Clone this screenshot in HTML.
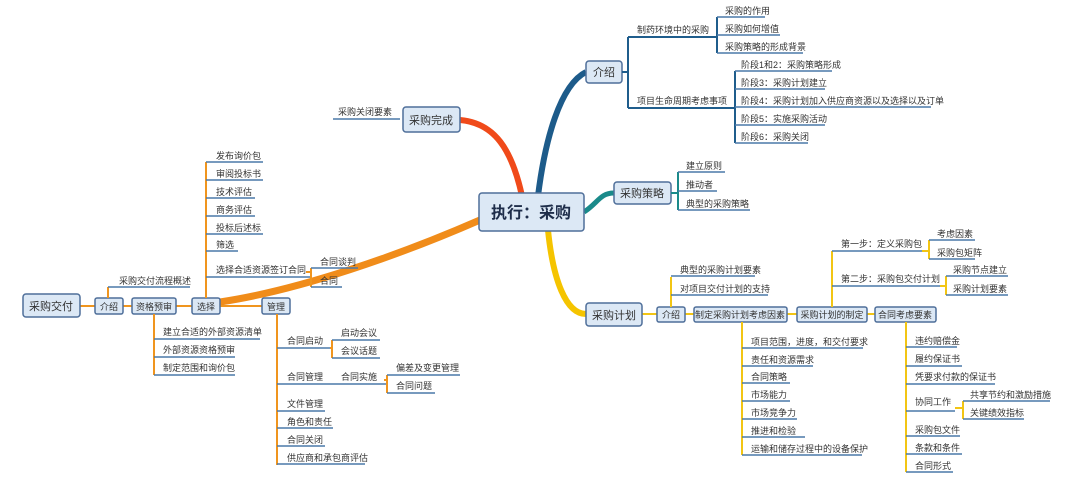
<!DOCTYPE html>
<html><head><meta charset="utf-8"><style>
html,body{margin:0;padding:0;background:#fff;}
svg{display:block;}
text{font-family:"Liberation Sans","Noto Sans CJK SC",sans-serif;font-size:9px;fill:#333;}
.b{fill:#dce8f5;stroke:#4f6f9a;stroke-width:1.5;}
.u{stroke:#4a78a8;stroke-width:1.5;}
.y{stroke:#f2c514;stroke-width:2;fill:none;}
.o{stroke:#f0951e;stroke-width:2;fill:none;}
.bl{stroke:#1f5d8c;stroke-width:2;fill:none;}
.t{stroke:#1b8a8a;stroke-width:2;fill:none;}
.m{font-size:11px;}
.L{font-size:14px;}
</style></head><body>
<svg width="1080" height="483" viewBox="0 0 1080 483" xmlns="http://www.w3.org/2000/svg">
<!-- main curves -->
<path d="M522,196 C512,150 495,123 460,120" stroke="#f04a1a" stroke-width="6" fill="none"/>
<path d="M538,196 C545,140 560,85 586,72" stroke="#1d5b8a" stroke-width="6" fill="none"/>
<path d="M584,212 C598,203 600,193 614,193" stroke="#1a8a8a" stroke-width="5" fill="none"/>
<path d="M548,230 C553,280 566,314 586,314" stroke="#f5c400" stroke-width="6" fill="none"/>
<path d="M480,220 C400,255 300,290 220,302" stroke="#f08c1a" stroke-width="7" fill="none"/>

<!-- center -->
<rect class="b" x="479" y="193" width="105" height="38" rx="3" stroke-width="2"/>
<text x="531" y="218" text-anchor="middle" style="font-size:16px;font-weight:bold;fill:#1e2d4a">执行：采购</text>

<!-- 采购完成 -->
<rect class="b" x="403" y="107" width="57" height="25" rx="3"/>
<text class="m" x="431" y="124" text-anchor="middle">采购完成</text>
<line class="u" x1="333" y1="119" x2="400" y2="119"/>
<text x="338" y="115">采购关闭要素</text>

<!-- 介绍 top -->
<rect class="b" x="586" y="61" width="36" height="22" rx="3"/>
<text class="m" x="604" y="76" text-anchor="middle">介绍</text>
<path class="bl" d="M622,72 H628 M628,37 V108"/>
<line class="bl" x1="628" y1="37" x2="713" y2="37"/>
<line class="bl" x1="628" y1="108" x2="730" y2="108"/>
<text x="637" y="33">制药环境中的采购</text>
<text x="637" y="104">项目生命周期考虑事项</text>
<path class="bl" d="M713,37 H717 M717,17 V53"/>
<line class="u" x1="717" y1="17" x2="765" y2="17"/><text x="725" y="14">采购的作用</text>
<line class="u" x1="717" y1="35" x2="780" y2="35"/><text x="725" y="32">采购如何增值</text>
<line class="u" x1="717" y1="53" x2="803" y2="53"/><text x="725" y="50">采购策略的形成背景</text>
<path class="bl" d="M730,108 H735 M735,71 V143"/>
<line class="u" x1="735" y1="71" x2="832" y2="71"/><text x="741" y="68">阶段1和2：采购策略形成</text>
<line class="u" x1="735" y1="89" x2="825" y2="89"/><text x="741" y="86">阶段3：采购计划建立</text>
<line class="u" x1="735" y1="107" x2="931" y2="107"/><text x="741" y="104">阶段4：采购计划加入供应商资源以及选择以及订单</text>
<line class="u" x1="735" y1="125" x2="825" y2="125"/><text x="741" y="122">阶段5：实施采购活动</text>
<line class="u" x1="735" y1="143" x2="808" y2="143"/><text x="741" y="140">阶段6：采购关闭</text>

<!-- 采购策略 -->
<rect class="b" x="614" y="182" width="57" height="22" rx="3"/>
<text class="m" x="642" y="197" text-anchor="middle">采购策略</text>
<path class="t" d="M671,193 H678 M678,172 V210"/>
<line class="u" x1="678" y1="172" x2="725" y2="172"/><text x="686" y="169">建立原则</text>
<line class="u" x1="678" y1="191" x2="717" y2="191"/><text x="686" y="188">推动者</text>
<line class="u" x1="678" y1="210" x2="750" y2="210"/><text x="686" y="207">典型的采购策略</text>

<!-- 采购计划 -->
<path class="y" d="M642,314 H875"/>
<rect class="b" x="586" y="303" width="56" height="23" rx="3"/>
<text class="m" x="614" y="319" text-anchor="middle">采购计划</text>
<rect class="b" x="657" y="307" width="28" height="15" rx="2"/><text x="671" y="318" text-anchor="middle">介绍</text>
<rect class="b" x="694" y="307" width="93" height="15" rx="2"/><text x="740" y="318" text-anchor="middle">制定采购计划考虑因素</text>
<rect class="b" x="797" y="307" width="70" height="15" rx="2"/><text x="832" y="318" text-anchor="middle">采购计划的制定</text>
<rect class="b" x="875" y="307" width="61" height="15" rx="2"/><text x="905" y="318" text-anchor="middle">合同考虑要素</text>
<path class="y" d="M671,307 V277"/>
<line class="u" x1="671" y1="276" x2="755" y2="276"/><text x="680" y="273">典型的采购计划要素</text>
<line class="u" x1="671" y1="295" x2="768" y2="295"/><text x="680" y="292">对项目交付计划的支持</text>
<path class="y" d="M742,322 V455"/>
<line class="u" x1="742" y1="348" x2="863" y2="348"/><text x="751" y="345">项目范围，进度，和交付要求</text>
<line class="u" x1="742" y1="366" x2="813" y2="366"/><text x="751" y="363">责任和资源需求</text>
<line class="u" x1="742" y1="383" x2="790" y2="383"/><text x="751" y="380">合同策略</text>
<line class="u" x1="742" y1="401" x2="790" y2="401"/><text x="751" y="398">市场能力</text>
<line class="u" x1="742" y1="419" x2="797" y2="419"/><text x="751" y="416">市场竞争力</text>
<line class="u" x1="742" y1="437" x2="805" y2="437"/><text x="751" y="434">推进和检验</text>
<line class="u" x1="742" y1="455" x2="862" y2="455"/><text x="751" y="452">运输和储存过程中的设备保护</text>
<path class="y" d="M832,307 V251"/>
<line class="u" x1="832" y1="251" x2="922" y2="251"/><text x="841" y="247">第一步：定义采购包</text>
<line class="u" x1="832" y1="286" x2="940" y2="286"/><text x="841" y="282">第二步：采购包交付计划</text>
<path class="y" d="M922,251 H929 M929,240 V259"/>
<line class="u" x1="929" y1="240" x2="975" y2="240"/><text x="937" y="237">考虑因素</text>
<line class="u" x1="929" y1="259" x2="975" y2="259"/><text x="937" y="256">采购包矩阵</text>
<path class="y" d="M940,286 H946 M946,276 V295"/>
<line class="u" x1="946" y1="276" x2="1008" y2="276"/><text x="953" y="273">采购节点建立</text>
<line class="u" x1="946" y1="295" x2="1008" y2="295"/><text x="953" y="292">采购计划要素</text>
<path class="y" d="M906,322 V472"/>
<line class="u" x1="906" y1="347" x2="957" y2="347"/><text x="915" y="344">违约赔偿金</text>
<line class="u" x1="906" y1="366" x2="962" y2="366"/><text x="915" y="362">履约保证书</text>
<line class="u" x1="906" y1="384" x2="995" y2="384"/><text x="915" y="380">凭要求付款的保证书</text>
<line class="u" x1="906" y1="411" x2="955" y2="411"/><text x="915" y="405">协同工作</text>
<line class="u" x1="906" y1="436" x2="960" y2="436"/><text x="915" y="433">采购包文件</text>
<line class="u" x1="906" y1="454" x2="962" y2="454"/><text x="915" y="451">条款和条件</text>
<line class="u" x1="906" y1="472" x2="953" y2="472"/><text x="915" y="469">合同形式</text>
<path class="y" d="M955,408 H963 M963,401 V419"/>
<line class="u" x1="963" y1="401" x2="1050" y2="401"/><text x="970" y="398">共享节约和激励措施</text>
<line class="u" x1="963" y1="419" x2="1024" y2="419"/><text x="970" y="416">关键绩效指标</text>

<!-- 采购交付 -->
<path class="o" d="M80,306 H262" stroke-width="3"/>
<rect class="b" x="23" y="294" width="57" height="23" rx="3"/>
<text class="m" x="51" y="310" text-anchor="middle">采购交付</text>
<rect class="b" x="95" y="298" width="28" height="16" rx="2"/><text x="109" y="310" text-anchor="middle">介绍</text>
<rect class="b" x="132" y="298" width="44" height="16" rx="2"/><text x="154" y="310" text-anchor="middle">资格预审</text>
<rect class="b" x="192" y="298" width="28" height="16" rx="2"/><text x="206" y="310" text-anchor="middle">选择</text>
<rect class="b" x="262" y="298" width="28" height="16" rx="2"/><text x="276" y="310" text-anchor="middle">管理</text>
<path class="o" d="M108,298 V287"/>
<line class="u" x1="108" y1="287" x2="190" y2="287"/><text x="119" y="284">采购交付流程概述</text>
<path class="o" d="M206,298 V162"/>
<line class="u" x1="206" y1="162" x2="263" y2="162"/><text x="216" y="159">发布询价包</text>
<line class="u" x1="206" y1="180" x2="263" y2="180"/><text x="216" y="177">审阅投标书</text>
<line class="u" x1="206" y1="198" x2="255" y2="198"/><text x="216" y="195">技术评估</text>
<line class="u" x1="206" y1="216" x2="255" y2="216"/><text x="216" y="213">商务评估</text>
<line class="u" x1="206" y1="234" x2="263" y2="234"/><text x="216" y="231">投标后述标</text>
<line class="u" x1="206" y1="251" x2="238" y2="251"/><text x="216" y="248">筛选</text>
<line class="u" x1="206" y1="277" x2="310" y2="277"/><text x="216" y="273">选择合适资源签订合同</text>
<path class="o" d="M306,272 H311 M311,268 V287"/>
<line class="u" x1="311" y1="268" x2="358" y2="268"/><text x="320" y="265">合同谈判</text>
<line class="u" x1="311" y1="287" x2="342" y2="287"/><text x="320" y="284">合同</text>
<path class="o" d="M154,314 V375"/>
<line class="u" x1="154" y1="339" x2="260" y2="339"/><text x="163" y="335">建立合适的外部资源清单</text>
<line class="u" x1="154" y1="357" x2="235" y2="357"/><text x="163" y="353">外部资源资格预审</text>
<line class="u" x1="154" y1="375" x2="235" y2="375"/><text x="163" y="371">制定范围和询价包</text>
<path class="o" d="M277,314 V465"/>
<line class="u" x1="277" y1="348" x2="330" y2="348"/><text x="287" y="344">合同启动</text>
<path class="o" d="M330,348 H332 M332,340 V358"/>
<line class="u" x1="332" y1="340" x2="380" y2="340"/><text x="341" y="336">启动会议</text>
<line class="u" x1="332" y1="358" x2="380" y2="358"/><text x="341" y="354">会议话题</text>
<line class="u" x1="277" y1="384" x2="388" y2="384"/><text x="287" y="380">合同管理</text><text x="341" y="380">合同实施</text>
<path class="o" d="M384,380 H387 M387,375 V393"/>
<line class="u" x1="387" y1="375" x2="460" y2="375"/><text x="396" y="371">偏差及变更管理</text>
<line class="u" x1="387" y1="393" x2="435" y2="393"/><text x="396" y="389">合同问题</text>
<line class="u" x1="277" y1="411" x2="325" y2="411"/><text x="287" y="407">文件管理</text>
<line class="u" x1="277" y1="428" x2="333" y2="428"/><text x="287" y="425">角色和责任</text>
<line class="u" x1="277" y1="446" x2="325" y2="446"/><text x="287" y="443">合同关闭</text>
<line class="u" x1="277" y1="464" x2="365" y2="464"/><text x="287" y="461">供应商和承包商评估</text>
</svg>
</body></html>
